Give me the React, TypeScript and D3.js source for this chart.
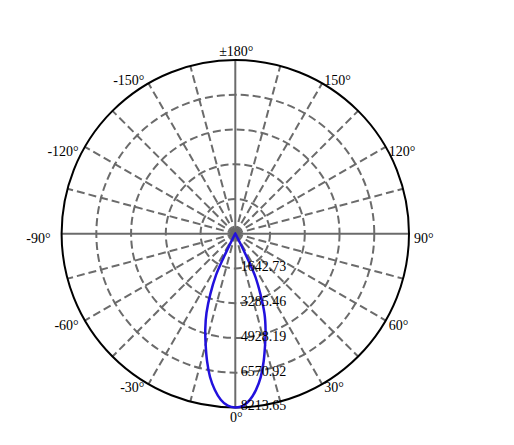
import { useEffect, useRef } from 'react';
import * as d3 from 'd3';

// Luminous intensity (cd), by C-plane angle in degrees
const ANGLES = [
  -180, -150, -120, -90, -60, -40, -32, -30, -28, -27, -26, -25, -22.5, -20, -17.5, -15, -12.5, -10,
  -7.5, -5, -2.5, 0, 2.5, 5, 7.5, 10, 12.5, 15, 17.5, 20, 22.5, 25, 26, 27, 28, 30, 32, 40, 60, 90,
  120, 150, 180,
];
const INTENSITY = [
  0, 0, 0, 0, 0, 5, 20, 40, 150, 500, 1350, 2150, 3080, 3980, 4720, 5420, 6170, 6880, 7440, 7880,
  8140, 8213.65, 8150, 7890, 7460, 6900, 6190, 5440, 4760, 4040, 3120, 2250, 1450, 550, 160, 40, 20,
  5, 0, 0, 0, 0, 0,
];

const RING_VALUES = [1642.73, 3285.46, 4928.19, 6570.92, 8213.65];
const SPOKE_ANGLES = d3.range(-180, 180, 15);
const TICK_ANGLES = [-150, -120, -90, -60, -30, 0, 30, 60, 90, 120, 150, 180];

const WIDTH = 514;
const HEIGHT = 445;
const CX = 235.3;
const CY = 233.7;
const R = 173.7;
const GRID = '#6b6b6b';

const rad = (deg: number) => (deg * Math.PI) / 180;

export default function App() {
  const svgRef = useRef<SVGSVGElement>(null);

  useEffect(() => {
    if (!svgRef.current) return;
    const svg = d3.select(svgRef.current);
    svg.selectAll('*').remove();

    const rScale = d3.scaleLinear().domain([0, d3.max(RING_VALUES) as number]).range([0, R]);
    const g = svg.append('g').attr('transform', `translate(${CX},${CY})`);

    // 0° points down, angles grow counter-clockwise
    const px = (deg: number, r: number) => r * Math.sin(rad(deg));
    const py = (deg: number, r: number) => r * Math.cos(rad(deg));

    // rings
    g.selectAll('circle.ring')
      .data(RING_VALUES.slice(0, -1))
      .enter()
      .append('circle')
      .attr('class', 'ring')
      .attr('r', d => rScale(d))
      .attr('fill', 'none')
      .attr('stroke', GRID)
      .attr('stroke-width', 2)
      .attr('stroke-dasharray', '8,4');

    // spokes: axes solid, others dashed
    SPOKE_ANGLES.forEach(a => {
      const solid = a % 90 === 0;
      g.append('line')
        .attr('x1', 0)
        .attr('y1', 0)
        .attr('x2', px(a, R))
        .attr('y2', py(a, R))
        .attr('stroke', GRID)
        .attr('stroke-width', 2)
        .attr('stroke-dasharray', solid ? null : '8,4');
    });

    // outer circle
    g.append('circle')
      .attr('r', R)
      .attr('fill', 'none')
      .attr('stroke', '#000')
      .attr('stroke-width', 2);

    // angle labels
    TICK_ANGLES.forEach(a => {
      const s = Math.sin(rad(a));
      const c = Math.cos(rad(a));
      const anchor = Math.abs(s) < 0.01 ? 'middle' : s > 0 ? 'start' : 'end';
      const dx = Math.abs(s) < 0.01 ? 1 : s > 0 ? 2 + 3 * s ** 8 : -(4 + 7 * s ** 8);
      const dy = c > 0.99 ? 10 : c < -0.99 ? -9 : c < -0.8 ? -3 : c > 0.8 ? 3 : 5;
      g.append('text')
        .attr('x', px(a, R) + dx)
        .attr('y', py(a, R) + dy)
        .attr('text-anchor', anchor)
        .attr('dominant-baseline', 'central')
        .text(a === 180 ? '±180°' : `${a}°`);
    });

    // intensity curve
    const line = d3
      .lineRadial<number>()
      .angle((_d, i) => rad(180 - ANGLES[i]))
      .radius(d => rScale(d))
      .curve(d3.curveCardinalClosed.tension(0.3));
    g.append('path')
      .datum(INTENSITY)
      .attr('d', line)
      .attr('fill', 'none')
      .attr('stroke', '#2211dd')
      .attr('stroke-width', 2.5);

    // ring value labels
    RING_VALUES.forEach(v => {
      g.append('text')
        .attr('x', 5.5)
        .attr('y', rScale(v) + 3)
        .attr('text-anchor', 'start')
        .text(v.toFixed(2));
    });
  }, []);

  return (
    <svg
      ref={svgRef}
      width={WIDTH}
      height={HEIGHT}
      style={{
        position: 'absolute',
        left: 0,
        top: 0,
        background: '#fff',
        fontFamily: '"Liberation Serif", "Times New Roman", serif',
        fontSize: '14px',
      }}
    />
  );
}
